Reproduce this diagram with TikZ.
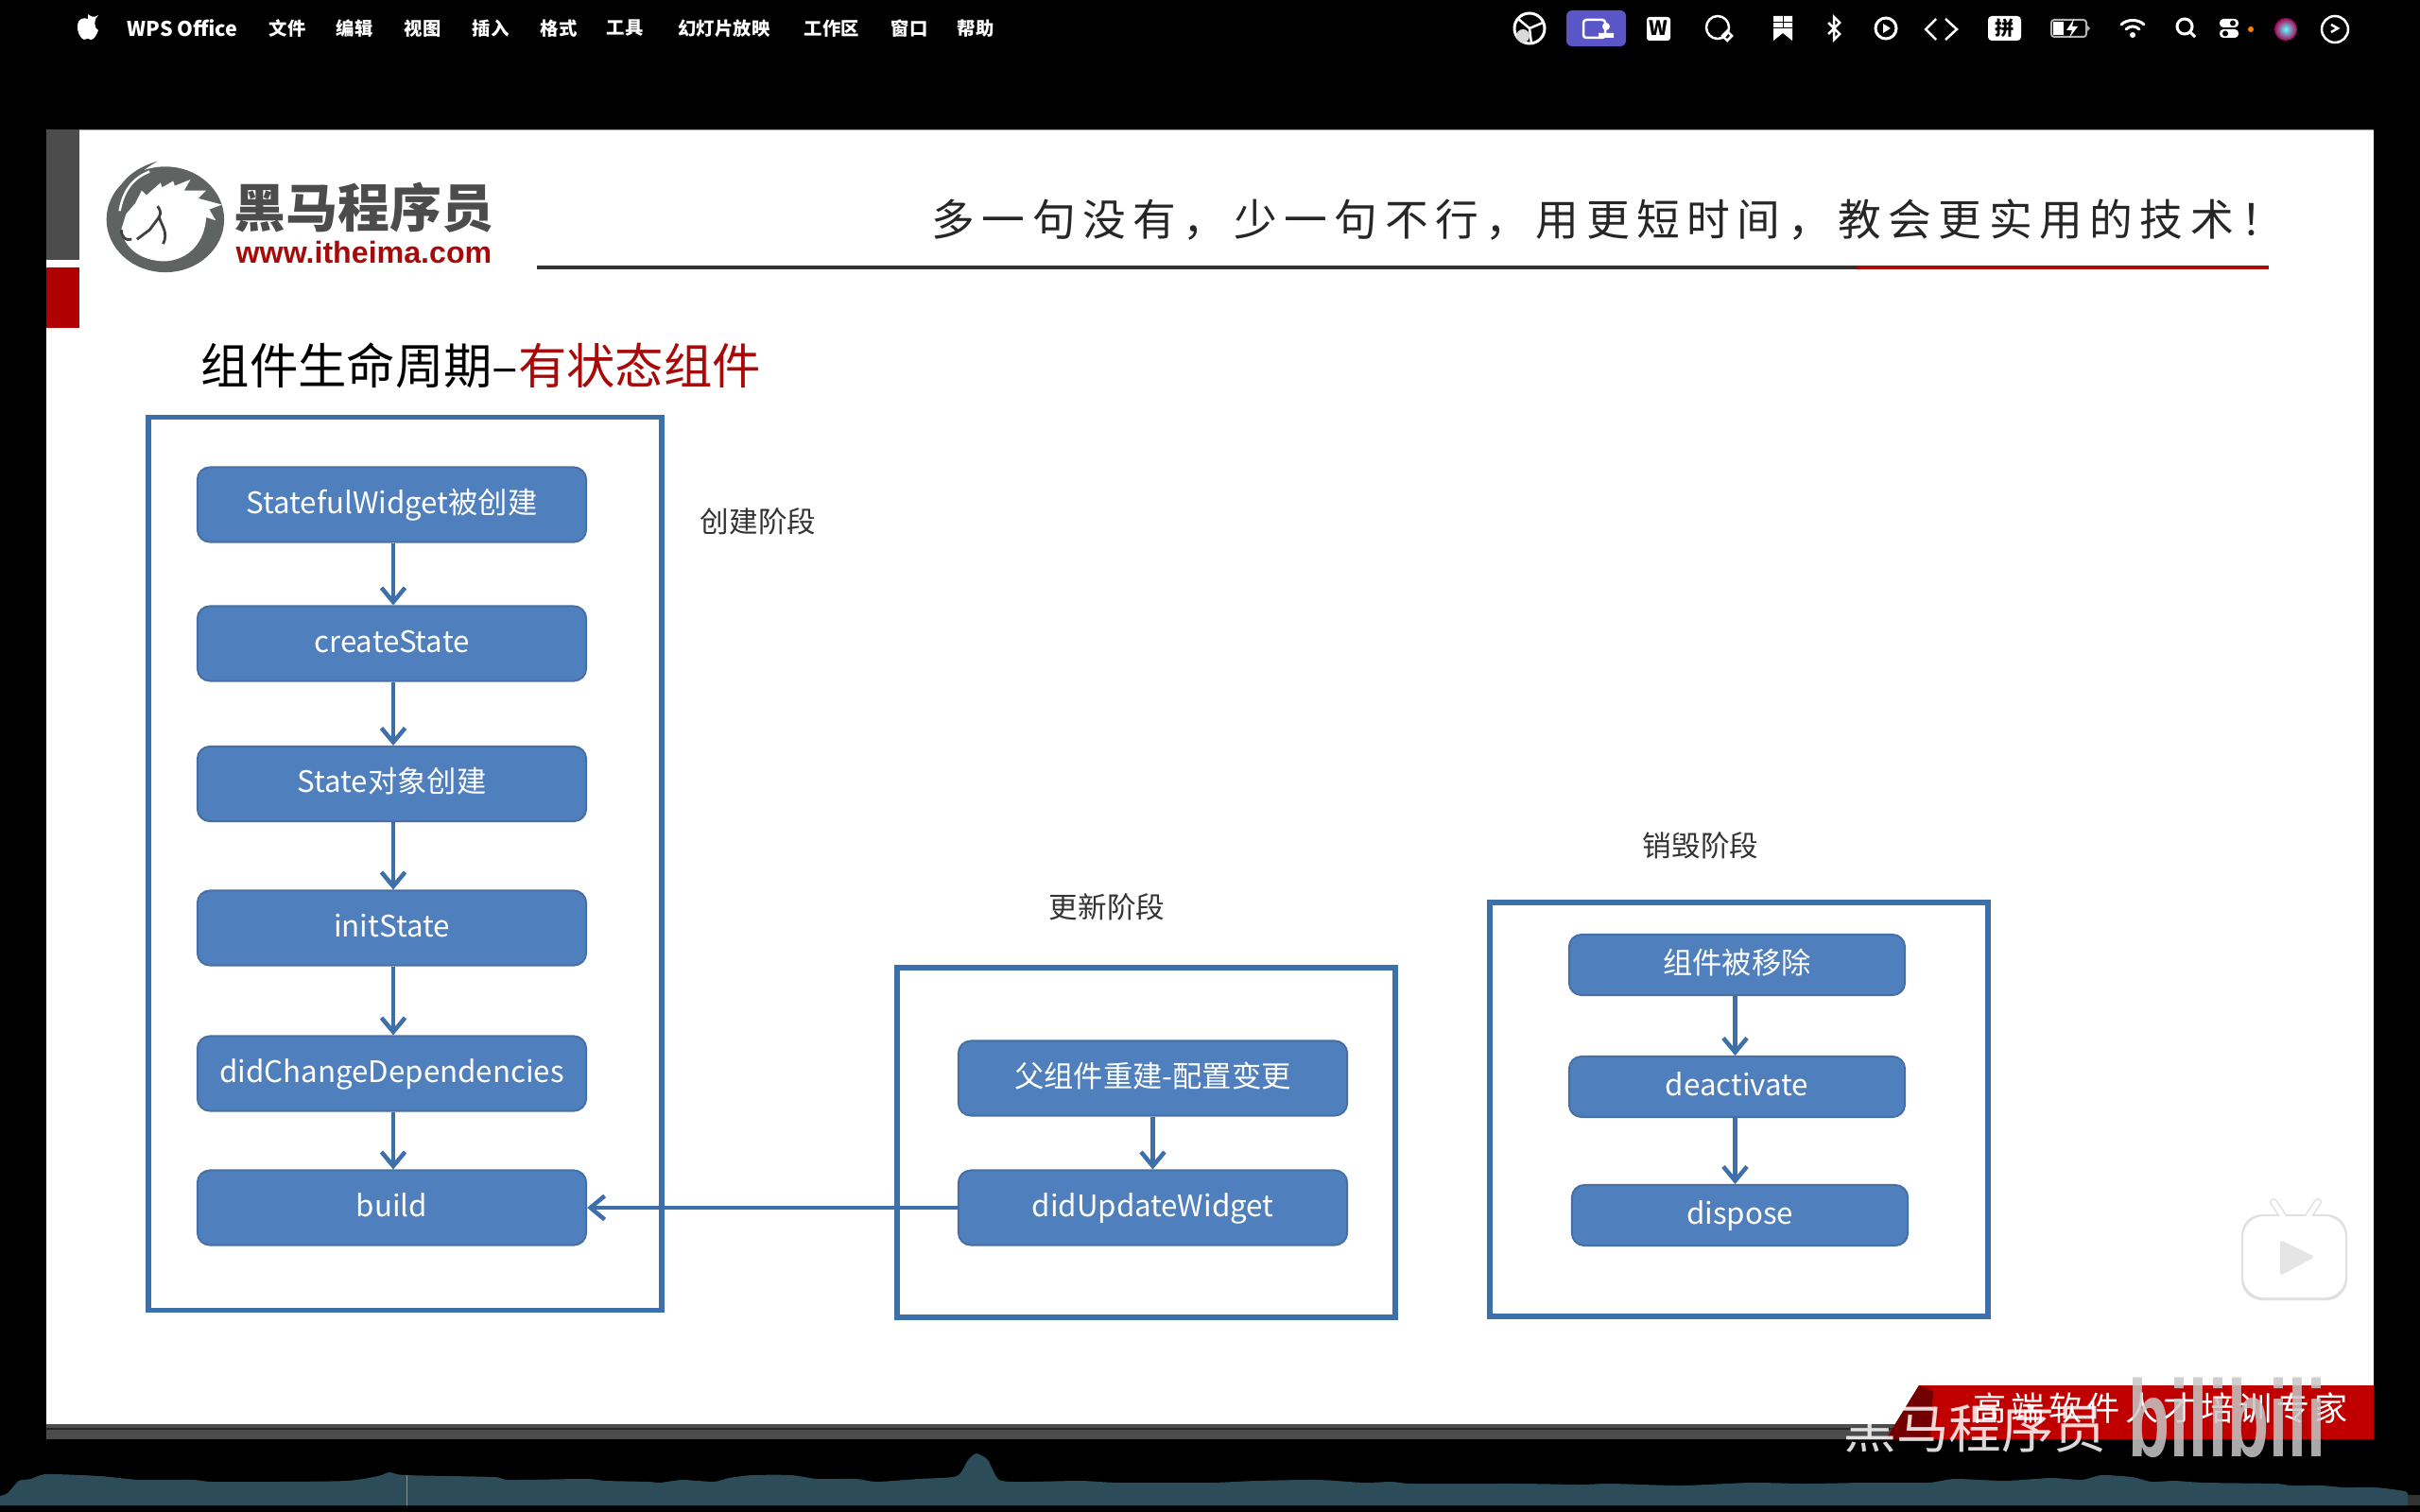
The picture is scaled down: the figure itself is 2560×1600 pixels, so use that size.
\documentclass[tikz,border=0pt]{standalone}
\usepackage{fontspec}
\setmainfont{Noto Sans CJK SC}
\newfontfamily\mottoFont[LetterSpace=16.5]{Noto Sans CJK SC}
\newfontfamily\bannerFont[LetterSpace=14]{Noto Sans CJK SC}
\newfontfamily\webFont{Liberation Sans}
\usetikzlibrary{arrows.meta, positioning}
\definecolor{boxBlue}{HTML}{4F7FBC}
\definecolor{lineBlue}{HTML}{3D6FAB}
\definecolor{titleRed}{HTML}{A80A0A}
\definecolor{barRed}{HTML}{B00000}
\definecolor{bannerRed}{HTML}{C00000}
\definecolor{waveTeal}{HTML}{2C4C5A}
\definecolor{logoGray}{HTML}{5F6362}

\begin{document}
\begin{tikzpicture}[
        x=0.01cm, y=-0.01cm,
        flowBlock/.style={
            rectangle, rounded corners=0.13cm, draw=boxBlue!88!black, line width=0.02cm, fill=boxBlue,
            minimum width=4.11cm, minimum height=0.79cm, inner sep=0pt,
            text height=0.25cm, text depth=0.07cm,
            text=white, font=\fontsize{8.9}{10}\selectfont
        },
        smallBlock/.style={
            flowBlock, minimum width=3.55cm, minimum height=0.64cm
        },
        frameBlock/.style={
            rectangle, draw=lineBlue, line width=0.055cm, inner sep=0pt
        },
        phaseLabel/.style={
            inner sep=0pt, text=black!80, font=\fontsize{8.7}{10}\selectfont
        },
        menuItem/.style={
            inner sep=0pt, text=white, font=\fontsize{5.5}{6}\selectfont\bfseries
        },
        arrow/.style={
            draw=lineBlue, line width=0.045cm,
            -{Straight Barb[length=0.15cm, width=0.25cm]}
        },
        icon/.style={
            draw=white, line width=0.025cm
        }
    ]
        \useasboundingbox (0,0) rectangle (2560,1600);
        \fill [black] (0,0) rectangle (2560,1600);

        % Slide
        \fill [white] (49,137) rectangle (2511,1507);
        \fill [black!35] (49,137) rectangle (2511,138);
        \fill [black!70!white] (49,137) rectangle (84,275);
        \fill [barRed] (49,283) rectangle (84,347);
        \fill [black!70] (49,1507) rectangle (2040,1523);
        \fill [black!85] (49,1511) rectangle (2040,1513);

        % Menu bar
        \fill [white] (93,15) .. controls (97,18) and (99,19) .. (104,16)
            .. controls (99,20) and (99,30) .. (104,32)
            .. controls (102,38) and (99,42) .. (96,42)
            .. controls (93,40) and (91,41) .. (89,42)
            .. controls (85,41) and (81,33) .. (82,26)
            .. controls (83,20) and (88,18) .. (93,20) -- cycle;
        \node (menuApp) [menuItem, anchor=west] at (134,30) {\fontsize{6.1}{7}\selectfont WPS Office};
        \foreach \menuX/\menuText in {304/文件, 375/编辑, 447/视图, 519/插入, 591/格式, 661/工具, 766/幻灯片放映, 880/工作区, 962/窗口, 1032/帮助}
            \node [menuItem] at (\menuX,30) {\menuText};

        % Status icons
        \draw [icon, line width=0.03cm] (1618,30) circle (16);
        \draw [icon] (1618,30) -- (1606,20) (1618,30) -- (1632,24) (1618,30) -- (1620,46);
        \fill [white!85!black] (1611,38) circle (7);
        \fill [fill={rgb,255:red,91;green,86;blue,200}] (1657,11) [rounded corners=0.06cm] rectangle (1720,49);
        \draw [icon] (1675,21) [rounded corners=0.03cm] rectangle (1698,40);
        \fill [white] (1699,28) circle (4) (1691,40) rectangle (1707,35);
        \fill [white] (1742,18) [rounded corners=0.03cm] rectangle (1767,43);
        \node (iconWps) [inner sep=0pt, font=\fontsize{6}{7}\selectfont\bfseries] at (1754.5,30) {W};
        \draw [icon] (1817,29) circle (12);
        \draw [icon] (1827,33) -- (1832,38) -- (1827,43) -- (1822,38) -- cycle;
        \fill [white] (1876,17) -- (1896,17) -- (1896,43) -- (1886,35) -- (1876,43) -- cycle;
        \draw [black, line width=0.01cm] (1886,17) -- (1886,30) (1876,24) -- (1896,24) (1876,30) -- (1896,30);
        \draw [icon] (1934,24) -- (1946,36) -- (1940,42) -- (1940,18) -- (1946,24) -- (1934,36);
        \draw [icon, line width=0.03cm] (1995,30) circle (11);
        \fill [white] (1992,25) -- (2000,30) -- (1992,35) -- cycle;
        \draw [icon] (2048,20) -- (2037,31) -- (2048,42) (2058,20) -- (2070,31) -- (2058,42);
        \fill [white] (2103,17) [rounded corners=0.04cm] rectangle (2138,43);
        \node (iconPin) [inner sep=0pt, font=\fontsize{5.8}{6}\selectfont\bfseries] at (2120.5,30) {拼};
        \draw [draw=white!70!black, line width=0.02cm] (2170,21) [rounded corners=0.03cm] rectangle (2207,39);
        \fill [white] (2172,23) rectangle (2183,37);
        \fill [white] (2194,20) -- (2186,32) -- (2192,32) -- (2189,40) -- (2198,28) -- (2192,28) -- cycle;
        \fill [white!70!black] (2208,27) -- (2211,30) -- (2208,33) -- cycle;
        \draw [icon, line width=0.03cm, line cap=round] (2244,26) .. controls (2250,20) and (2262,20) .. (2268,26);
        \draw [icon, line width=0.03cm, line cap=round] (2249,31) .. controls (2253,27) and (2259,27) .. (2263,31);
        \fill [white] (2256,37) circle (3);
        \draw [icon, line width=0.03cm] (2311,28) circle (8) (2317,34) -- (2322,39);
        \fill [white] (2348,20) [rounded corners=0.04cm] rectangle (2368,29);
        \fill [white] (2348,31) [rounded corners=0.04cm] rectangle (2368,40);
        \fill [black] (2362,24.5) circle (3) (2354,35.5) circle (3);
        \fill [orange] (2381,31) circle (3);
        \shade [inner color=cyan!60!white, outer color=violet!70!red] (2418,31) circle (12);
        \draw [icon] (2470,31) circle (14);
        \draw [icon] (2466,26) -- (2473,30) -- (2466,34);

        % Logo
        \begin{scope}[shift={(100,160)}, x=0.00333cm, y=-0.00333cm]
            \fill [logoGray] (225,217) ellipse [x radius=187, y radius=168];
            \fill [logoGray] (60,150) .. controls (90,80) and (140,50) .. (200,32)
                .. controls (150,62) and (110,90) .. (90,150) -- cycle;
            \fill [white] (85,250) -- (100,200) -- (130,165) -- (150,125) -- (165,140)
                -- (210,100) -- (215,115) -- (250,95) -- (255,110) -- (305,90) -- (285,125)
                -- (355,125) -- (330,150) -- (405,170) -- (365,185) -- (385,220) -- (355,210)
                .. controls (350,290) and (300,345) .. (225,350)
                .. controls (150,350) and (95,310) .. (85,250) -- cycle;
            \draw [white, line width=0.025cm] (80,190) .. controls (90,130) and (120,85) .. (175,65);
            \draw [black!75, line width=0.028cm] (85,250) .. controls (85,275) and (100,285) .. (118,280);
            \draw [black!75, line width=0.028cm] (135,280) -- (175,250) -- (205,210)
                .. controls (215,195) and (205,180) .. (200,175);
            \draw [black!75, line width=0.028cm] (205,210) .. controls (215,240) and (235,260) .. (218,295);
        \end{scope}
        \node (logoName) [inner sep=0pt, font=\fontsize{15.6}{16}\selectfont\bfseries, text=black!70] at (385,220) {黑马程序员};
        \node (logoWeb) [below=0.07cm of logoName, inner sep=0pt, font=\fontsize{9.15}{10}\webFont\bfseries, text=titleRed] {www.itheima.com};

        % Header
        \node (motto) [anchor=west, inner sep=0pt, font=\fontsize{13}{14}\mottoFont, text=black!85] at (985,233) {多一句没有，少一句不行，用更短时间，教会更实用的技术！};
        \coordinate (ruleStart) at (568,283);
        \coordinate (ruleMiddle) at (1964,283);
        \coordinate (ruleEnd) at (2400,283);
        \draw [black!80, line width=0.035cm] (ruleStart) -- (ruleMiddle);
        \draw [titleRed, line width=0.035cm] (ruleMiddle) -- (ruleEnd);
        \node (title) [anchor=west, inner sep=0pt, font=\fontsize{14.6}{17}\selectfont] at (212,387) {组件生命周期–\textcolor{titleRed}{有状态组件}};

        % Frames
        \node (createFrame) [frameBlock, minimum width=5.43cm, minimum height=9.44cm] at (428.5,914) {};
        \node (updateFrame) [frameBlock, minimum width=5.27cm, minimum height=3.70cm] at (1212.5,1209) {};
        \node (destroyFrame) [frameBlock, minimum width=5.27cm, minimum height=4.38cm] at (1839.5,1174) {};

        % Nodes
        \node (widgetMade) [flowBlock] at (414.5,534) {StatefulWidget被创建};
        \node (createState) [flowBlock] at (414.5,681) {createState};
        \node (stateMade) [flowBlock] at (414.5,829.5) {State对象创建};
        \node (initState) [flowBlock] at (414.5,982) {initState};
        \node (didChange) [flowBlock] at (414.5,1136) {didChangeDependencies};
        \node (build) [flowBlock] at (414.5,1278) {build};

        \node (parentRebuild) [flowBlock] at (1219.5,1141) {父组件重建-配置变更};
        \node (didUpdate) [flowBlock] at (1219.5,1278) {didUpdateWidget};

        \node (widgetRemoved) [smallBlock] at (1837.5,1021) {组件被移除};
        \node (deactivate) [smallBlock] at (1837.5,1150) {deactivate};
        \node (dispose) [smallBlock] at (1840.5,1286) {dispose};

        % Labels
        \node (createLabel) [phaseLabel] at (802,552) {创建阶段};
        \node (updateLabel) [phaseLabel] at (1171,960) {更新阶段};
        \node (destroyLabel) [phaseLabel] at (1799,895) {销毁阶段};

        % Arrows
        \draw [arrow] ([xshift=0.015cm]widgetMade.south) -- ([xshift=0.015cm]createState.north);
        \draw [arrow] ([xshift=0.015cm]createState.south) -- ([xshift=0.015cm]stateMade.north);
        \draw [arrow] ([xshift=0.015cm]stateMade.south) -- ([xshift=0.015cm]initState.north);
        \draw [arrow] ([xshift=0.015cm]initState.south) -- ([xshift=0.015cm]didChange.north);
        \draw [arrow] ([xshift=0.015cm]didChange.south) -- ([xshift=0.015cm]build.north);
        \draw [arrow] (parentRebuild) -- (didUpdate);
        \draw [arrow] (didUpdate) -- (build);
        \draw [arrow] ([xshift=-0.02cm]widgetRemoved.south) -- ([xshift=-0.02cm]deactivate.north);
        \draw [arrow] ([xshift=-0.02cm]deactivate.south) -- ([xshift=-0.02cm]deactivate.south |- dispose.north);

        % Banner
        \fill [bannerRed] (2030,1466) -- (2511,1466) -- (2511,1523) -- (1995,1523) -- cycle;
        \fill [bannerRed!60!black] (2030,1466) -- (2045,1472) -- (2042,1523) -- (1995,1523) -- cycle;
        \node (bannerText) [anchor=west, inner sep=0pt, text=white, font=\fontsize{10}{11}\bannerFont] at (2087,1490) {高端软件人才培训专家};

        % Watermarks
        \node (markName) [anchor=west, inner sep=0pt, text=white, opacity=0.85, font=\fontsize{15.8}{17}\selectfont] at (1950,1511) {黑马程序员};
        \node (markSite) [inner sep=0pt, text=black!22, opacity=0.85, yscale=1.6, font=\fontsize{20.5}{22}\webFont\bfseries] at (2356,1500) {bilibili};
        \draw [black!12, line width=0.08cm, line cap=round] (2405,1272) -- (2417,1290) (2452,1272) -- (2440,1290);
        \fill [black!12] (2371,1285) [rounded corners=0.22cm] rectangle (2483,1376);
        \draw [white, line width=0.05cm, line cap=round] (2405,1272) -- (2417,1290) (2452,1272) -- (2440,1290);
        \fill [white] (2373,1287) [rounded corners=0.22cm] rectangle (2481,1373);
        \fill [black!10, rounded corners=0.03cm] (2412,1312) -- (2449,1330) -- (2412,1350) -- cycle;

        % Audio track
        \fill [waveTeal] (0,1593) -- plot [smooth, tension=0.4] coordinates {(0,1583) (8,1580) (20,1567) (33,1565) (49,1560) (106,1562) (147,1566) (204,1566) (224,1568) (294,1568) (367,1567) (400,1562) (412,1558) (429,1561) (522,1563) (539,1566) (620,1565) (641,1567) (686,1568) (698,1569) (722,1566) (755,1568) (771,1564) (796,1561) (837,1561) (865,1565) (906,1565) (927,1568) (971,1565) (1012,1562) (1024,1545) (1033,1538) (1045,1545) (1057,1566) (1086,1568) (1143,1567) (1184,1569) (1280,1569) (1329,1567) (1394,1566) (1443,1569) (1472,1568) (1496,1570) (1607,1570) (1672,1571) (1704,1570) (1778,1572) (1851,1569) (1909,1570) (1974,1569) (2039,1569) (2068,1565) (2121,1567) (2170,1564) (2202,1566) (2223,1561) (2255,1563) (2276,1568) (2300,1567) (2333,1569) (2407,1570) (2423,1572) (2456,1572) (2480,1574) (2513,1574) (2544,1578) (2547,1582)} -- (2547,1593) -- cycle;
        \fill [black!80] (2547,1582) rectangle (2560,1593);
        \fill [waveTeal!60!white] (429.5,1561) rectangle (430.5,1593);
    \end{tikzpicture}
\end{document}
